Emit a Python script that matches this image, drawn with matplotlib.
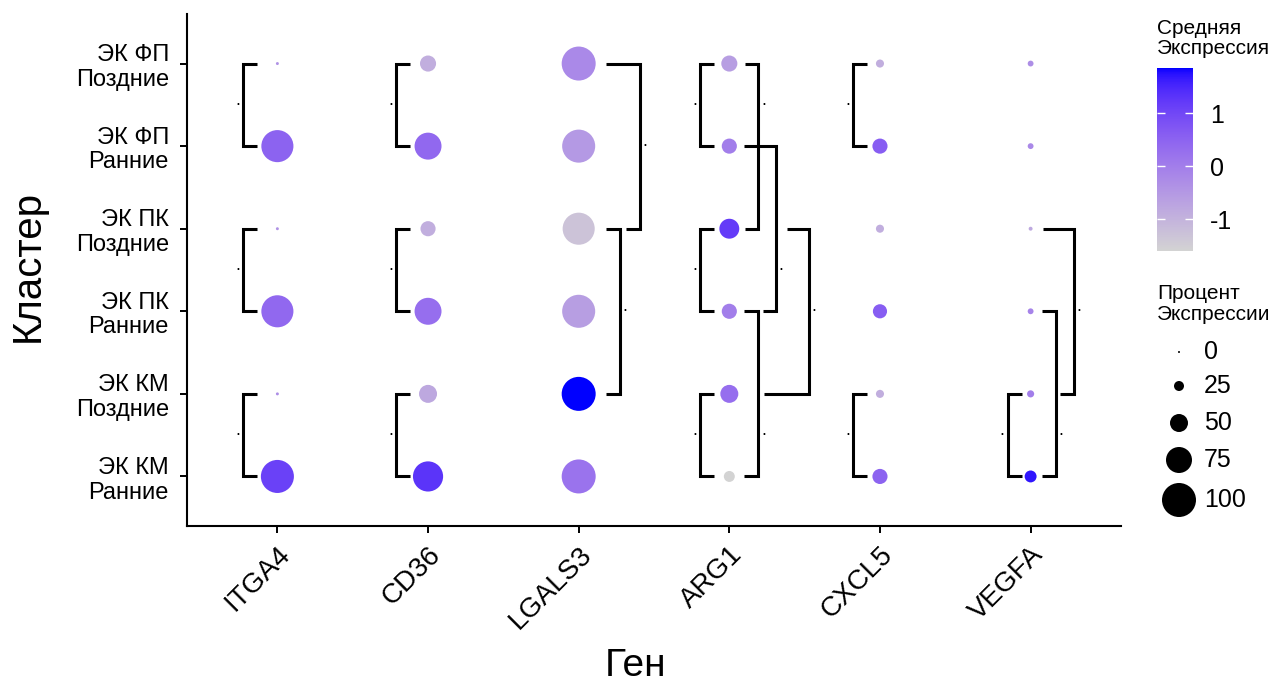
import numpy as np
import matplotlib
matplotlib.use('Agg')
import matplotlib.pyplot as plt
from matplotlib.colors import ListedColormap, Normalize
from matplotlib.cm import ScalarMappable

plt.rcParams['font.family'] = ['Liberation Sans', 'DejaVu Sans']
plt.rcParams['axes.unicode_minus'] = False

genes = ['ITGA4', 'CD36', 'LGALS3', 'ARG1', 'CXCL5', 'VEGFA']
clusters = ['ЭК ФП\nПоздние', 'ЭК ФП\nРанние', 'ЭК ПК\nПоздние',
            'ЭК ПК\nРанние', 'ЭК КМ\nПоздние', 'ЭК КМ\nРанние']

# percent expressing, one row per gene, clusters in the order above
pct_expr = [
    [3, 94, 3, 94, 3, 97],
    [44, 78, 41, 78, 50, 88],
    [100, 97, 94, 97, 100, 100],
    [44, 41, 56, 41, 50, 28],
    [19, 41, 19, 38, 19, 41],
    [12, 12, 6, 12, 16, 31],
]
# average scaled expression
avg_expr = [
    [-0.4, 0.5, -0.4, 0.4, -0.3, 1.1],
    [-0.9, 0.4, -0.9, 0.3, -0.8, 1.3],
    [-0.2, -0.5, -1.3, -0.6, 1.85, 0.2],
    [-0.6, 0.0, 1.2, 0.0, 0.3, -1.6],
    [-0.9, 0.6, -0.9, 0.6, -0.9, 0.5],
    [-0.3, -0.2, -0.8, -0.1, 0.0, 1.7],
]

size_breaks = [0, 25, 50, 75, 100]
cbar_ticks = [-1, 0, 1]

# brackets: gene, row a, row b, x of vertical, x of stub at a, x of stub at b, row of label
# (x values are offsets from the gene column in data units)
left_brackets = [
    (0, 0, 1, -0.226, -0.133), (0, 2, 3, -0.226, -0.133), (0, 4, 5, -0.226, -0.133),
    (1, 0, 1, -0.212, -0.120), (1, 2, 3, -0.212, -0.120), (1, 4, 5, -0.212, -0.120),
    (3, 0, 1, -0.193, -0.100), (3, 2, 3, -0.193, -0.100), (3, 4, 5, -0.193, -0.100),
    (4, 0, 1, -0.179, -0.086), (4, 4, 5, -0.179, -0.086),
    (5, 4, 5, -0.153, -0.060),
]
right_brackets = [
    (2, 0, 2, 0.405, 0.179, 0.312, 1.0),
    (2, 2, 4, 0.272, 0.179, 0.179, 3.0),
    (3, 0, 2, 0.193, 0.106, 0.106, 0.5),
    (3, 1, 3, 0.312, 0.100, 0.226, 2.5),
    (3, 3, 5, 0.193, 0.100, 0.100, 4.5),
    (3, 2, 4, 0.531, 0.385, 0.232, 3.0),
    (5, 2, 4, 0.286, 0.080, 0.193, 3.0),
    (5, 3, 5, 0.166, 0.073, 0.073, 4.5),
]
sig_label = '.'


def srgb_to_lab(rgb):
    rgb = np.asarray(rgb, float)
    lin = np.where(rgb <= 0.04045, rgb / 12.92, ((rgb + 0.055) / 1.055) ** 2.4)
    M = np.array([[0.4124, 0.3576, 0.1805], [0.2126, 0.7152, 0.0722], [0.0193, 0.1192, 0.9505]])
    xyz = M @ lin / np.array([0.95047, 1.0, 1.08883])
    d = 6 / 29
    f = np.where(xyz > d ** 3, np.cbrt(xyz), xyz / (3 * d * d) + 4 / 29)
    return np.array([116 * f[1] - 16, 500 * (f[0] - f[1]), 200 * (f[1] - f[2])])


def lab_to_srgb(lab):
    L, a, b = lab
    fy = (L + 16) / 116
    fx = fy + a / 500
    fz = fy - b / 200
    d = 6 / 29
    fs = np.array([fx, fy, fz])
    xyz = np.where(fs > d, fs ** 3, 3 * d * d * (fs - 4 / 29)) * np.array([0.95047, 1.0, 1.08883])
    Minv = np.linalg.inv(np.array([[0.4124, 0.3576, 0.1805], [0.2126, 0.7152, 0.0722], [0.0193, 0.1192, 0.9505]]))
    lin = np.clip(Minv @ xyz, 0, 1)
    rgb = np.where(lin <= 0.0031308, 12.92 * lin, 1.055 * lin ** (1 / 2.4) - 0.055)
    return np.clip(rgb, 0, 1)


# lightgrey -> blue, interpolated in Lab like ggplot
lo = srgb_to_lab([211 / 255, 211 / 255, 211 / 255])
hi = srgb_to_lab([0, 0, 1])
cmap = ListedColormap([lab_to_srgb(lo + t * (hi - lo)) for t in np.linspace(0, 1, 256)])

avg = np.array(avg_expr)
pct = np.array(pct_expr)
norm = Normalize(vmin=avg.min(), vmax=avg.max())


def dot_size(p):
    d_px = 2 + 0.32 * np.asarray(p, float)
    return (d_px * 0.72) ** 2


W, H = 1274, 683
fig = plt.figure(figsize=(W / 100, H / 100), dpi=100)
ax = fig.add_axes([187 / W, 1 - 526 / H, 934 / W, 512 / H])

gx, cy = np.meshgrid(np.arange(len(genes)), np.arange(len(clusters)), indexing='ij')
ax.scatter(gx.ravel(), cy.ravel(), s=dot_size(pct.ravel()), c=avg.ravel(),
           cmap=cmap, norm=norm, linewidths=0, zorder=3)

lw = 2.2
for g, a, b, v, s in left_brackets:
    ax.plot([g + s, g + v, g + v, g + s], [a, a, b, b], color='black', lw=lw,
            solid_joinstyle='miter', solid_capstyle='butt', zorder=2)
    ax.text(g + v - 0.035, (a + b) / 2, sig_label, fontsize=13, ha='center', va='baseline')
for g, a, b, v, sa, sb, lr in right_brackets:
    ax.plot([g + sa, g + v, g + v, g + sb], [a, a, b, b], color='black', lw=lw,
            solid_joinstyle='miter', solid_capstyle='butt', zorder=2)
    ax.text(g + v + 0.033, lr, sig_label, fontsize=13, ha='center', va='baseline')

ax.set_xlim(-0.6, len(genes) - 0.4)
ax.set_ylim(len(clusters) - 0.4, -0.6)
ax.set_xticks(range(len(genes)))
ax.set_xticklabels(genes, rotation=45, ha='right', va='top', rotation_mode='anchor', fontsize=20)
ax.set_yticks(range(len(clusters)))
ax.set_yticklabels(clusters, fontsize=17, linespacing=1.15)
for sp in ['top', 'right']:
    ax.spines[sp].set_visible(False)
for sp in ['left', 'bottom']:
    ax.spines[sp].set_linewidth(1.5)
ax.tick_params(axis='both', length=5, width=1.4, color='black')
ax.tick_params(axis='y', pad=8)
ax.tick_params(axis='x', pad=6)

ax.set_xlabel('Ген', fontsize=28, va='center')
ax.xaxis.set_label_coords((636 - 187) / 934, (526 - 666) / 512)
ax.set_ylabel('Кластер', fontsize=29, va='center')
ax.yaxis.set_label_coords((28 - 187) / 934, (526 - 266) / 512)

# colour bar
cax = fig.add_axes([1157 / W, 1 - 251 / H, 36 / W, 183 / H])
cb = fig.colorbar(ScalarMappable(norm=norm, cmap=cmap), cax=cax)
cb.outline.set_visible(False)
cb.set_ticks(cbar_ticks)
cax.tick_params(axis='y', direction='in', length=6, width=1, color='white',
                labelcolor='black', labelsize=18, left=True, right=True, pad=12)
fig.text(1157 / W, 1 - 19 / H, 'Средняя\nЭкспрессия', fontsize=15, ha='left', va='top', linespacing=1.05)

# size legend
fig.text(1157 / W, 1 - 284 / H, 'Процент\nЭкспрессии', fontsize=15, ha='left', va='top', linespacing=1.15)
lax = fig.add_axes([0, 0, 1, 1])
lax.set_xlim(0, W)
lax.set_ylim(H, 0)
lax.axis('off')
leg_y = [352, 386, 423, 460, 500]
lax.scatter([1179] * len(size_breaks), leg_y, s=dot_size(size_breaks), color='black', linewidths=0)
for yy, lab in zip(leg_y, size_breaks):
    lax.text(1204, yy, str(lab), fontsize=18, ha='left', va='center')

fig.savefig('out.png', dpi=100)
